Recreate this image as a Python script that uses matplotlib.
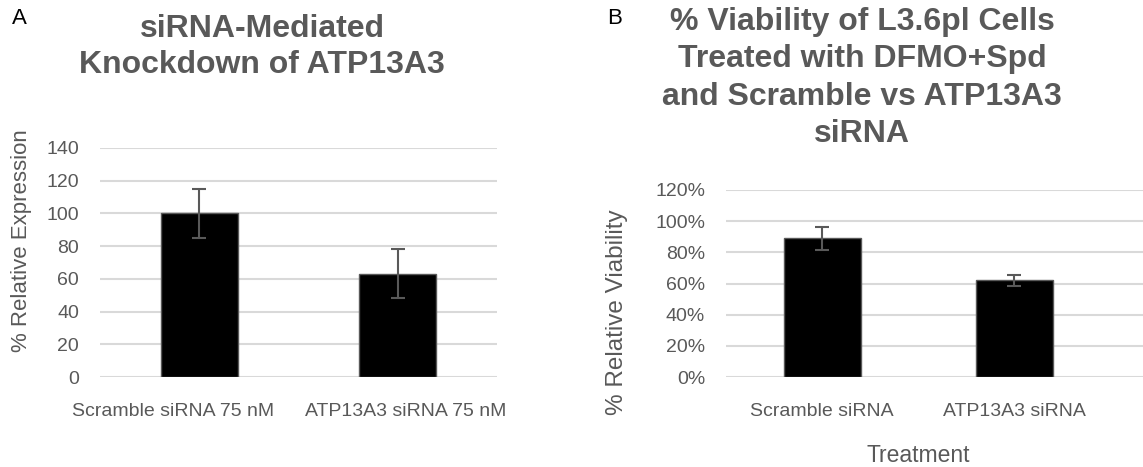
import matplotlib.pyplot as plt
from matplotlib.ticker import PercentFormatter

plt.rcParams['font.family'] = ['Liberation Sans', 'DejaVu Sans']

# Panel A data
groups_a = ['Scramble siRNA 75 nM', 'ATP13A3 siRNA 75 nM']
expr_a = [100, 63]
err_a = [15, 15]

# Panel B data (fractions)
groups_b = ['Scramble siRNA', 'ATP13A3 siRNA']
viab_b = [0.89, 0.62]
err_b = [0.075, 0.037]

grey = '#595959'
grid = '#d9d9d9'

W, H = 1143, 467
fig = plt.figure(figsize=(W / 100, H / 100), dpi=100)


def px(x0, y0, x1, y1):
    # pixel box -> figure fraction rect
    return [x0 / W, 1 - y1 / H, (x1 - x0) / W, (y1 - y0) / H]


def style(ax):
    for s in ax.spines.values():
        s.set_visible(False)
    ax.yaxis.grid(True, color=grid, linewidth=1.5)
    ax.set_axisbelow(True)
    ax.tick_params(length=0, colors=grey, labelsize=14)
    ax.tick_params(axis='y', pad=15)
    ax.tick_params(axis='x', pad=19)


# ---- Panel A ----
ax1 = fig.add_axes(px(100, 148, 497, 377))
ax1.bar(range(2), expr_a, width=0.39, color='black', edgecolor=grey, linewidth=1,
        yerr=err_a, error_kw=dict(ecolor=grey, elinewidth=1.5, capsize=5, capthick=1.5))
ax1.set_ylim(0, 140)
ax1.set_yticks(range(0, 141, 20))
ax1.set_xlim(-0.5, 1.5)
# labels sit a bit off the bar centres in the original
ax1.set_xticks([-0.13, 1.04])
ax1.set_xticklabels(groups_a)
style(ax1)
fig.text(22 / W, 1 - 241 / H, '% Relative Expression', rotation=90, ha='center', va='center',
         fontsize=16, color=grey)
fig.text(262 / W, 1 - 14 / H, 'siRNA-Mediated\nKnockdown of ATP13A3', ha='center', va='top',
         fontsize=23, fontweight='bold', color=grey, linespacing=1.25)
fig.text(12 / W, 1 - 24 / H, 'A', fontsize=16, color='black')

# ---- Panel B ----
ax2 = fig.add_axes(px(726, 190, 1143, 377))
ax2.bar(range(2), viab_b, width=0.4, color='black', edgecolor=grey, linewidth=1,
        yerr=err_b, error_kw=dict(ecolor=grey, elinewidth=1.5, capsize=5, capthick=1.5))
ax2.set_ylim(0, 1.2)
ax2.set_yticks([0, 0.2, 0.4, 0.6, 0.8, 1.0, 1.2])
ax2.yaxis.set_major_formatter(PercentFormatter(1.0, decimals=0))
ax2.set_xlim(-0.5, 1.67)
ax2.set_xticks(range(2))
ax2.set_xticklabels(groups_b)
style(ax2)
fig.text(617 / W, 1 - 312 / H, '% Relative Viability', rotation=90, ha='center', va='center',
         fontsize=17.5, color=grey)
fig.text(918 / W, 1 - 455 / H, 'Treatment', ha='center', va='center', fontsize=16.5, color=grey)
fig.text(862 / W, 1 - 7 / H,
         '% Viability of L3.6pl Cells\nTreated with DFMO+Spd\nand Scramble vs ATP13A3\nsiRNA',
         ha='center', va='top', fontsize=23, fontweight='bold', color=grey, linespacing=1.32)
fig.text(607 / W, 1 - 24 / H, 'B', fontsize=16, color='black')

fig.savefig('out.png', dpi=100)
